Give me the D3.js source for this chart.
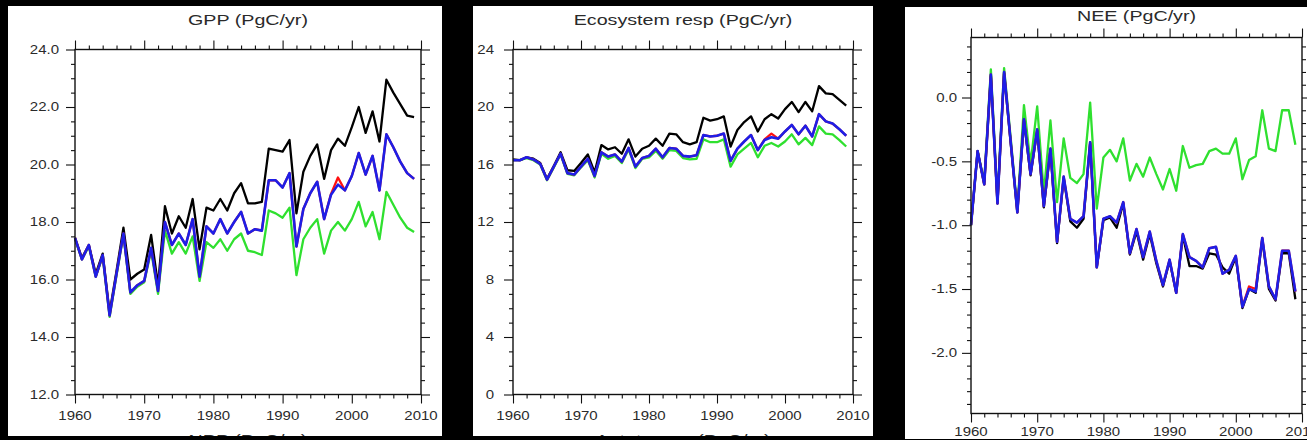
<!DOCTYPE html>
<html><head><meta charset="utf-8">
<script src="https://cdn.jsdelivr.net/npm/d3@7"></script>
<style>
html,body{margin:0;padding:0;background:#000;}
svg{display:block;}
text{font-family:"Liberation Sans",Arial,Helvetica,sans-serif;fill:#2a2a2a;}
</style></head>
<body>
<svg id="c" width="1307" height="440"></svg>
<script>
const years = [1960,1961,1962,1963,1964,1965,1966,1967,1968,1969,1970,1971,1972,1973,1974,1975,1976,1977,1978,1979,1980,1981,1982,1983,1984,1985,1986,1987,1988,1989,1990,1991,1992,1993,1994,1995,1996,1997,1998,1999,2000,2001,2002,2003,2004,2005,2006,2007,2008,2009];

const gppBlack = [17.45,16.75,17.2,16.2,16.9,14.85,16.3,17.8,16.0,16.2, 16.35,17.55,15.8,18.55,17.6,18.2,17.8,18.8,17.05,18.5, 18.4,18.8,18.4,19.0,19.35,18.65,18.65,18.7,20.55,20.5, 20.45,20.85,18.3,19.75,20.3,20.7,19.5,20.5,20.9,20.65, 21.3,22.0,21.1,21.85,20.8,22.95,22.5,22.1,21.7,21.65];
const gppRed   = [17.45,16.7,17.2,16.1,16.85,14.75,16.2,17.6,15.55,15.8, 15.95,17.1,15.6,18.0,17.2,17.6,17.2,18.1,16.1,17.85, 17.6,18.1,17.6,18.0,18.35,17.6,17.75,17.7,19.45,19.45, 19.2,19.7,17.15,18.45,19.0,19.4,18.1,18.98,19.55,19.1, 19.6,20.4,19.65,20.3,19.1,21.05,20.6,20.1,19.7,19.5];
const gppBlue  = [17.45,16.7,17.2,16.1,16.85,14.75,16.2,17.6,15.55,15.8, 15.95,17.1,15.6,18.0,17.2,17.6,17.2,18.1,16.1,17.85, 17.6,18.1,17.6,18.0,18.35,17.6,17.75,17.7,19.45,19.45, 19.2,19.7,17.15,18.45,19.0,19.4,18.1,18.95,19.3,19.1, 19.6,20.4,19.65,20.3,19.1,21.05,20.6,20.1,19.7,19.5];
const gppGreen = [17.4,16.7,17.15,16.1,16.8,14.7,16.15,17.55,15.5,15.75, 15.9,17.0,15.5,17.7,16.9,17.3,16.9,17.5,15.95,17.3, 17.1,17.4,17.0,17.4,17.6,17.0,16.95,16.85,18.4,18.3, 18.15,18.5,16.15,17.4,17.8,18.1,16.9,17.7,18.0,17.7, 18.1,18.7,17.85,18.35,17.4,19.05,18.6,18.15,17.8,17.65];

const recoBlack = [16.35,16.3,16.5,16.4,16.1,15.0,15.9,16.85,15.6,15.55, 16.1,16.7,15.45,17.35,17.05,17.2,16.75,17.75,16.55,17.1, 17.3,17.8,17.3,18.15,18.1,17.55,17.4,17.55,19.25,19.05, 19.15,19.35,17.25,18.4,18.95,19.35,18.3,19.15,19.5,19.2, 19.85,20.35,19.65,20.35,19.7,21.45,20.95,20.9,20.5,20.1];
const recoRed   = [16.3,16.3,16.5,16.35,16.05,14.95,15.85,16.75,15.4,15.3, 15.85,16.4,15.2,16.85,16.55,16.7,16.2,17.15,15.85,16.45, 16.6,17.1,16.5,17.15,17.1,16.6,16.55,16.65,18.05,17.95, 18.0,18.15,16.25,17.1,17.6,18.05,17.0,17.75,18.15,17.8, 18.3,18.75,18.1,18.7,17.95,19.5,19.0,18.85,18.45,18.0];
const recoBlue  = [16.3,16.3,16.5,16.35,16.05,14.95,15.85,16.75,15.4,15.3, 15.85,16.4,15.2,16.85,16.55,16.7,16.2,17.15,15.85,16.45, 16.6,17.1,16.5,17.15,17.1,16.6,16.55,16.65,18.05,17.95, 18.0,18.15,16.25,17.1,17.6,18.05,17.0,17.7,17.9,17.8, 18.3,18.75,18.1,18.7,17.95,19.5,19.0,18.85,18.45,18.0];
const recoGreen = [16.3,16.3,16.45,16.3,16.0,14.9,15.8,16.7,15.35,15.25, 15.8,16.3,15.1,16.75,16.4,16.6,16.1,17.05,15.75,16.4, 16.5,16.95,16.4,17.0,16.95,16.45,16.35,16.4,17.75,17.55, 17.55,17.75,15.85,16.7,17.1,17.5,16.5,17.3,17.5,17.25, 17.6,18.1,17.4,17.85,17.35,18.65,18.15,18.1,17.7,17.25];

const neeBlack = [-1.0,-0.42,-0.68,0.17,-0.83,0.19,-0.36,-0.9,-0.18,-0.61, -0.26,-0.86,-0.41,-1.14,-0.63,-0.97,-1.02,-0.95,-0.36,-1.33, -0.96,-0.94,-1.02,-0.83,-1.23,-1.05,-1.27,-1.07,-1.3,-1.48, -1.28,-1.53,-1.08,-1.32,-1.32,-1.34,-1.22,-1.23,-1.33,-1.38, -1.25,-1.65,-1.5,-1.53,-1.11,-1.5,-1.59,-1.22,-1.22,-1.58];
const neeRed   = [-1.0,-0.42,-0.68,0.18,-0.83,0.2,-0.35,-0.9,-0.17,-0.6, -0.25,-0.85,-0.4,-1.13,-0.62,-0.95,-0.98,-0.93,-0.35,-1.33, -0.95,-0.93,-0.98,-0.82,-1.22,-1.03,-1.25,-1.05,-1.28,-1.47, -1.27,-1.53,-1.07,-1.25,-1.28,-1.33,-1.18,-1.17,-1.38,-1.35, -1.24,-1.64,-1.48,-1.5,-1.1,-1.48,-1.58,-1.2,-1.2,-1.52];
const neeBlue  = [-1.0,-0.42,-0.68,0.18,-0.83,0.2,-0.35,-0.9,-0.17,-0.6, -0.25,-0.85,-0.4,-1.13,-0.62,-0.95,-0.98,-0.93,-0.35,-1.33, -0.95,-0.93,-0.98,-0.82,-1.22,-1.03,-1.25,-1.05,-1.28,-1.47, -1.27,-1.53,-1.07,-1.25,-1.28,-1.33,-1.18,-1.17,-1.38,-1.35, -1.24,-1.64,-1.5,-1.52,-1.1,-1.48,-1.58,-1.2,-1.2,-1.52];
const neeGreen = [-1.0,-0.42,-0.66,0.22,-0.8,0.23,-0.32,-0.88,-0.06,-0.52, -0.07,-0.75,-0.18,-0.82,-0.32,-0.63,-0.67,-0.6,-0.04,-0.87, -0.47,-0.41,-0.5,-0.32,-0.65,-0.52,-0.62,-0.47,-0.6,-0.72, -0.56,-0.73,-0.38,-0.55,-0.53,-0.52,-0.42,-0.4,-0.44,-0.44, -0.32,-0.64,-0.49,-0.46,-0.1,-0.4,-0.42,-0.1,-0.1,-0.37];

const xMajorTicks = [1960,1970,1980,1990,2000,2010];
const xTickLabels = ["1960","1970","1980","1990","2000","2010"];
const gppTicks = [12,14,16,18,20,22,24];
const gppTickLabels = ["12.0","14.0","16.0","18.0","20.0","22.0","24.0"];
const recoTicks = [0,4,8,12,16,20,24];
const recoTickLabels = ["0","4","8","12","16","20","24"];
const neeTicks = [-2.0,-1.5,-1.0,-0.5,0.0];
const neeTickLabels = ["-2.0","-1.5","-1.0","-0.5","0.0"];
const titles = ["GPP (PgC/yr)","Ecosystem resp (PgC/yr)","NEE (PgC/yr)"];
const nextTitles = ["NPP (PgC/yr)","Autotr resp (PgC/yr)",""];

const seriesColors = {green:"#2fe02f", black:"#000000", red:"#ff1010", blue:"#1e1ee6"};

const svg = d3.select("#c");

const panels = [
  {bg:[8,6,434,430], x0:75, x1:421, y0:49.5, y1:394.5, ydom:[12,24], yt:gppTicks, ytl:gppTickLabels, ymin:0.5,
   data:{green:gppGreen,black:gppBlack,red:gppRed,blue:gppBlue}, title:titles[0], titleY:24.5, next:nextTitles[0], xlabY:420, ylabOff:16},
  {bg:[473,6,400,430], x0:513, x1:853, y0:49.5, y1:394.5, ydom:[0,24], yt:recoTicks, ytl:recoTickLabels, ymin:1,
   data:{green:recoGreen,black:recoBlack,red:recoRed,blue:recoBlue}, title:titles[1], titleY:24.5, next:nextTitles[1], xlabY:420, ylabOff:19},
  {bg:[905,7,402,432], x0:971, x1:1302, y0:37.5, y1:413.5, ydom:[-2.475,0.47], yt:neeTicks, ytl:neeTickLabels, ymin:0.1,
   data:{green:neeGreen,black:neeBlack,red:neeRed,blue:neeBlue}, title:titles[2], titleY:21, next:nextTitles[2], xlabY:436, ylabOff:14}
];

const SX = 1.25;

panels.forEach(p => {
  const g = svg.append("g");
  g.append("rect").attr("x",p.bg[0]).attr("y",p.bg[1]).attr("width",p.bg[2]).attr("height",p.bg[3]).attr("fill","#fff");
  const cg = g.append("g");

  const x = d3.scaleLinear().domain([1960,2010]).range([p.x0,p.x1]);
  const y = d3.scaleLinear().domain(p.ydom).range([p.y1,p.y0]);

  const xMinor = d3.range(1960,2011,2).filter(v => v%10!==0);
  const yMinorAll = [];
  const n0 = Math.ceil(p.ydom[0]/p.ymin - 1e-6), n1 = Math.floor(p.ydom[1]/p.ymin + 1e-6);
  for (let i=n0;i<=n1;i++){ const v=+(i*p.ymin).toFixed(4); if(!p.yt.some(t=>Math.abs(t-v)<1e-6)) yMinorAll.push(v); }

  const tickStyle = sel => { sel.select(".domain").remove(); sel.selectAll("line").attr("stroke","#111").attr("stroke-width",1.1); sel.selectAll("text").remove(); };

  cg.append("g").attr("transform",`translate(0,${p.y1})`).call(d3.axisBottom(x).tickValues(xMinor).tickSize(4)).call(tickStyle);
  cg.append("g").attr("transform",`translate(0,${p.y0})`).call(d3.axisTop(x).tickValues(xMinor).tickSize(4)).call(tickStyle);
  cg.append("g").attr("transform",`translate(0,${p.y1})`).call(d3.axisBottom(x).tickValues(xMajorTicks).tickSize(9)).call(tickStyle);
  cg.append("g").attr("transform",`translate(0,${p.y0})`).call(d3.axisTop(x).tickValues(xMajorTicks).tickSize(9)).call(tickStyle);
  cg.append("g").attr("transform",`translate(${p.x0},0)`).call(d3.axisLeft(y).tickValues(yMinorAll).tickSize(4)).call(tickStyle);
  cg.append("g").attr("transform",`translate(${p.x1},0)`).call(d3.axisRight(y).tickValues(yMinorAll).tickSize(4)).call(tickStyle);
  cg.append("g").attr("transform",`translate(${p.x0},0)`).call(d3.axisLeft(y).tickValues(p.yt).tickSize(9)).call(tickStyle);
  cg.append("g").attr("transform",`translate(${p.x1},0)`).call(d3.axisRight(y).tickValues(p.yt).tickSize(9)).call(tickStyle);

  xMajorTicks.forEach((v,i) => {
    cg.append("text").attr("transform",`translate(${x(v)},${p.xlabY}) scale(${SX},1)`)
      .attr("text-anchor","middle").attr("font-size",12).text(xTickLabels[i]);
  });
  p.yt.forEach((v,i) => {
    cg.append("text").attr("transform",`translate(${p.x0-p.ylabOff},${y(v)+4.3}) scale(${SX},1)`)
      .attr("text-anchor","end").attr("font-size",12).text(p.ytl[i]);
  });

  const line = d3.line().x((d,i)=>x(years[i])).y(d=>y(d));
  const lg = cg.append("g");
  ["green","black","red","blue"].forEach(k => {
    lg.append("path").datum(p.data[k]).attr("d",line).attr("fill","none")
      .attr("stroke",seriesColors[k]).attr("stroke-width", k==="blue"?2.6:2.3)
      .attr("stroke-linejoin","round");
  });

  cg.append("rect").attr("x",p.x0).attr("y",p.y0).attr("width",p.x1-p.x0).attr("height",p.y1-p.y0)
    .attr("fill","none").attr("stroke","#111").attr("stroke-width",1.4);

  const cx = (p.x0+p.x1)/2;
  cg.append("text").attr("transform",`translate(${cx},${p.titleY}) scale(1.27,1)`)
    .attr("text-anchor","middle").attr("font-size",15.5).text(p.title);
  if (p.next) {
    cg.append("text").attr("transform",`translate(${cx},444.5) scale(1.27,1)`)
      .attr("text-anchor","middle").attr("font-size",15.5).text(p.next);
  }
  const id = "clip"+p.x0;
  svg.append("clipPath").attr("id",id).append("rect").attr("x",p.bg[0]).attr("y",p.bg[1]).attr("width",p.bg[2]).attr("height",p.bg[3]);
  cg.attr("clip-path",`url(#${id})`);
});
</script>
</body></html>
